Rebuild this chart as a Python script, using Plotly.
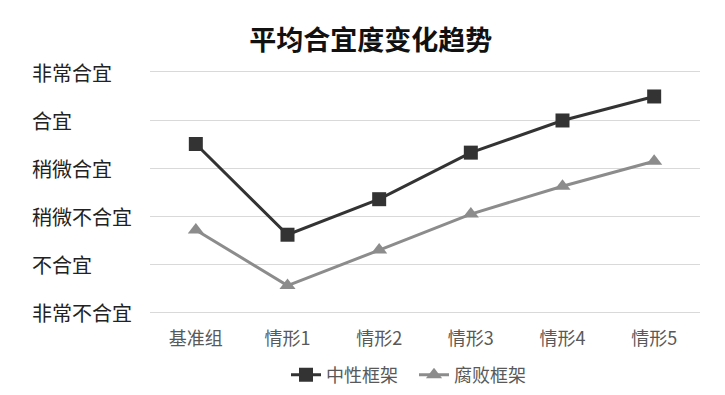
import plotly.graph_objects as go

categories = ["基准组", "情形1", "情形2", "情形3", "情形4", "情形5"]
neutral = [4.50, 2.61, 3.35, 4.32, 4.99, 5.49]
corrupt = [2.71, 1.55, 2.29, 3.04, 3.62, 4.14]
tick_vals = [1, 2, 3, 4, 5, 6]
tick_text = ["非常不合宜", "不合宜", "稍微不合宜", "稍微合宜", "合宜", "非常合宜"]

FONT = "Noto Sans CJK SC"

fig = go.Figure()
fig.add_trace(go.Scatter(x=categories, y=neutral, name="中性框架", mode="lines+markers",
                         line=dict(color="#333333", width=3),
                         marker=dict(symbol="square", size=14, color="#333333")))
fig.add_trace(go.Scatter(x=categories, y=corrupt, name="腐败框架", mode="lines+markers",
                         line=dict(color="#8c8c8c", width=3),
                         marker=dict(symbol="triangle-up", size=14, color="#8c8c8c")))

for v, t in zip(tick_vals, tick_text):
    fig.add_annotation(x=-0.218, xref="paper", y=v, yref="y", text=t, showarrow=False,
                       xanchor="left", yanchor="middle",
                       font=dict(family=FONT, size=20, color="#222222"))

fig.update_layout(
    width=717, height=387,
    margin=dict(l=142, r=25, t=64, b=83, autoexpand=False),
    paper_bgcolor="white", plot_bgcolor="white",
    title=dict(text="<b>平均合宜度变化趋势</b>", x=0.506, xanchor="center", y=0.917, yanchor="middle",
               font=dict(family=FONT, size=27, color="#111111")),
    xaxis=dict(range=[-0.5, 5.5], showgrid=False, showline=True, mirror=True, automargin=False,
               linecolor="#d9d9d9", linewidth=1, ticks="", ticklabelstandoff=10,
               tickfont=dict(family=FONT, size=18, color="#595959")),
    yaxis=dict(range=[1, 6], tickvals=tick_vals, showticklabels=False, automargin=False,
               showgrid=True, gridcolor="#d9d9d9", gridwidth=1, zeroline=False, showline=False),
    legend=dict(orientation="h", x=0.48, xanchor="center", y=-0.263, yanchor="middle",
                font=dict(family=FONT, size=18, color="#595959"), itemwidth=30,
                entrywidth=83, entrywidthmode="pixels"),
    showlegend=True,
)

fig.write_html("out.html")
